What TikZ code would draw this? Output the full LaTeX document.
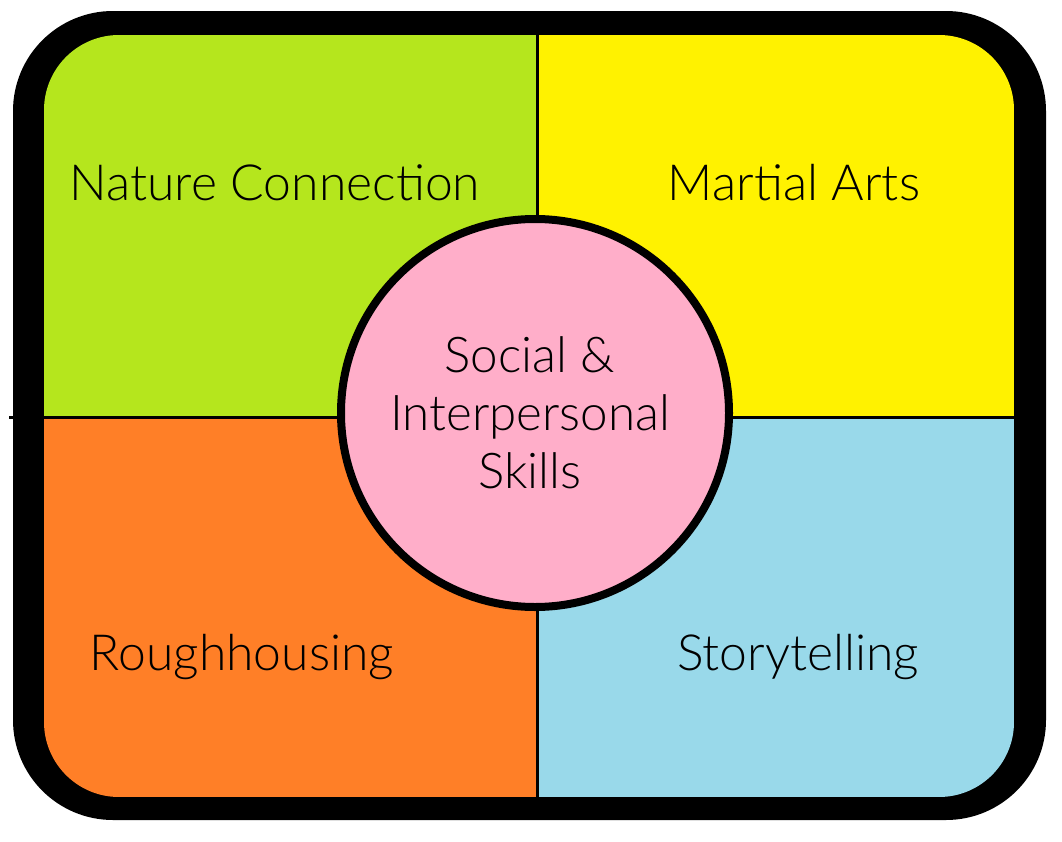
\documentclass[tikz,border=0pt]{standalone}
\usepackage{fontspec}
\setmainfont{Lato}[UprightFont=* Light]
\usetikzlibrary{calc}
\definecolor{nc_green}{RGB}{181, 230, 29}
\definecolor{ma_yellow}{RGB}{255, 242, 0}
\definecolor{rh_orange}{RGB}{255, 127, 39}
\definecolor{st_blue}{RGB}{153, 217, 234}
\definecolor{sk_pink}{RGB}{255, 174, 201}
\tikzstyle{lbl}=[inner sep=0pt,anchor=base,font=\fontsize{50}{58}\selectfont]
\tikzstyle{hub}=[circle,fill=sk_pink,draw=black,line width=8bp,
  minimum size=388bp,inner sep=0pt,align=center,font=\fontsize{49.5}{58}\selectfont]
\tikzstyle{divider}=[line width=3bp]
\tikzstyle{none}=[]
\begin{document}
\begin{tikzpicture}[x=1bp,y=-1bp]
        \useasboundingbox (0, 0) rectangle (1062, 842);
        % frame
        \fill [rounded corners=100bp] (13, 11) rectangle (1046, 820);
        \begin{scope}
            \clip [rounded corners=75bp] (44, 35) rectangle (1014, 797);
            \fill [nc_green] (44, 35) rectangle (537, 417);
            \fill [ma_yellow] (537, 35) rectangle (1014, 417);
            \fill [rh_orange] (44, 417) rectangle (537, 797);
            \fill [st_blue] (537, 417) rectangle (1014, 797);
        \end{scope}
        \coordinate (0) at (537, 35);
        \coordinate (1) at (537, 797);
        \coordinate (2) at (9, 417);
        \coordinate (3) at (1014, 417);
        \draw [style=divider] (0) to (1);
        \draw [style=divider] (2) to (3);
        % labels
        \node [style=lbl] (4) at (275, 200) {Nature Connection};
        \node [style=lbl] (5) at (794, 200) {Martial Arts};
        \node [style=lbl] (6) at (242, 670) {Roughhousing};
        \node [style=lbl] (7) at (798, 670) {Storytelling};
        \node [style=hub] (8) at (535, 413) {};
        \node [style=none, align=center, inner sep=0pt,
          font=\fontsize{49.5}{58}\selectfont] (9) at (530, 413) {Social \&\\Interpersonal\\Skills};
    \end{tikzpicture}
\end{document}
